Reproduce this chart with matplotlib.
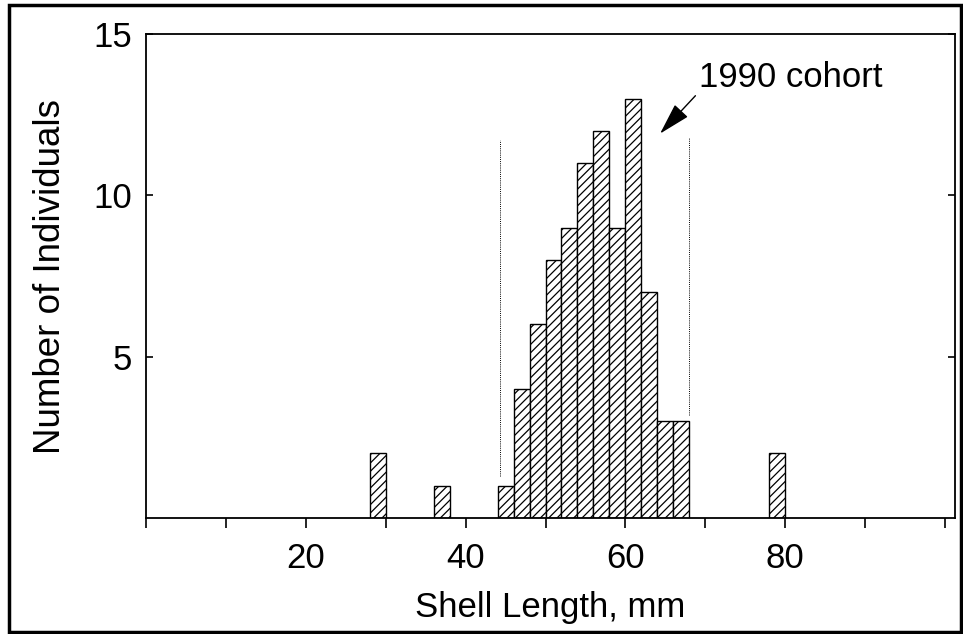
import matplotlib
matplotlib.use("Agg")
import matplotlib.pyplot as plt
from matplotlib.patches import Rectangle

plt.rcParams['font.family'] = ['Liberation Sans', 'DejaVu Sans']
plt.rcParams['hatch.linewidth'] = 0.9

# Data: bin left edges (mm) and counts; bin width 2 mm
bin_left = [28, 36, 44, 46, 48, 50, 52, 54, 56, 58, 60, 62, 64, 66, 78]
counts = [2, 1, 1, 4, 6, 8, 9, 11, 12, 9, 13, 7, 3, 3, 2]
bin_width = 2
xticks = [20, 40, 60, 80]
yticks = [5, 10, 15]
cohort_bounds = [44.3, 68.0]
cohort_bound_ranges = [(1.3, 11.7), (3.2, 11.8)]

fig = plt.figure(figsize=(9.63, 6.34), dpi=100)
ax = fig.add_axes([146/963, 1-518/634, (955-146)/963, (518-34)/634])

ax.bar(bin_left, counts, width=bin_width, align='edge', color='white',
       edgecolor='black', linewidth=1.0, hatch='////')

for xb, (y0, y1) in zip(cohort_bounds, cohort_bound_ranges):
    ax.plot([xb, xb], [y0, y1], color='black', linestyle=(0, (1, 1.2)), linewidth=0.7)

ax.annotate('', xy=(64.1, 11.85), xytext=(69.0, 13.15),
            arrowprops=dict(arrowstyle='-|>,head_length=1.0,head_width=0.28',
                            color='black', lw=1.0, mutation_scale=20))
ax.text(69.2, 13.65, '1990 cohort', fontsize=25, va='center', ha='left')

ax.set_xlim(0, 101.25)
ax.set_ylim(0, 15)
ax.set_xticks(range(0, 101, 10))
ax.set_xticklabels(['' if t not in xticks else str(t) for t in range(0, 101, 10)], fontsize=25)
ax.set_yticks(yticks)
ax.set_yticklabels([str(t) for t in yticks], fontsize=25)
ax.tick_params(axis='x', direction='out', length=7, width=1.2, pad=10, top=False)
ax.tick_params(axis='y', direction='in', length=5, width=1.2, pad=10, right=True)
for s in ax.spines.values():
    s.set_linewidth(1.3)

ax.set_xlabel('Shell Length, mm', fontsize=25, labelpad=12)
ax.set_ylabel('Number of Individuals', fontsize=26.5, labelpad=18)

# outer frame
fig.patches.append(Rectangle((9/963, 2/634), (961-9)/963, (629-2)/634,
                             transform=fig.transFigure, fill=False,
                             edgecolor='black', linewidth=2.5))

fig.savefig('out.png', dpi=100)
